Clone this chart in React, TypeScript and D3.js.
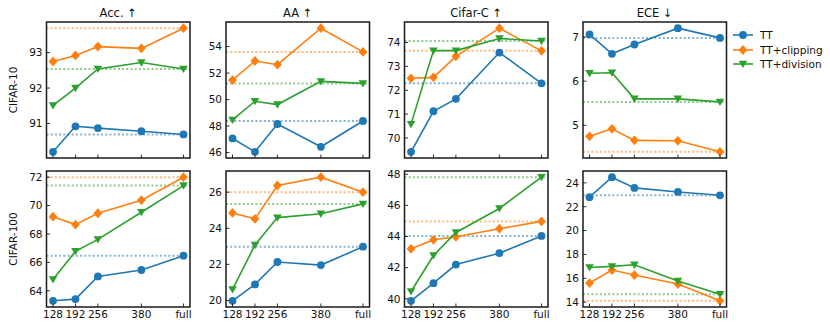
import React from "react";
import * as d3 from "d3";

const xLabels = ["128", "192", "256", "380", "full"];
const xValues = [128, 192, 256, 380, 500];

const seriesNames = ["TT", "TT+clipping", "TT+division"];
const seriesColors = ["#1f77b4", "#ff7f0e", "#2ca02c"];

const columnTitles = ["Acc. ↑", "AA ↑", "Cifar-C ↑", "ECE ↓"];
const rowTitles = ["CIFAR-10", "CIFAR-100"];

// CIFAR-10
const c10AccTT = [90.2, 90.92, 90.87, 90.78, 90.69];
const c10AccClip = [92.75, 92.92, 93.17, 93.12, 93.69];
const c10AccDiv = [91.51, 92.0, 92.54, 92.72, 92.54];

const c10AaTT = [47.06, 46.05, 48.15, 46.43, 48.38];
const c10AaClip = [51.47, 52.91, 52.63, 55.39, 53.6];
const c10AaDiv = [48.46, 49.87, 49.62, 51.37, 51.22];

const c10CTT = [69.42, 71.12, 71.64, 73.58, 72.29];
const c10CClip = [72.5, 72.54, 73.42, 74.6, 73.65];
const c10CDiv = [70.58, 73.66, 73.66, 74.17, 74.06];

const c10EceTT = [7.06, 6.62, 6.83, 7.2, 6.98];
const c10EceClip = [4.75, 4.92, 4.66, 4.65, 4.4];
const c10EceDiv = [6.18, 6.19, 5.6, 5.6, 5.53];

// CIFAR-100
const c100AccTT = [63.29, 63.41, 65.01, 65.46, 66.47];
const c100AccClip = [69.22, 68.66, 69.46, 70.38, 72.0];
const c100AccDiv = [64.8, 66.78, 67.62, 69.53, 71.41];

const c100AaTT = [19.98, 20.89, 22.13, 21.96, 22.98];
const c100AaClip = [24.85, 24.52, 26.37, 26.83, 26.0];
const c100AaDiv = [20.61, 23.07, 24.59, 24.8, 25.35];

const c100CTT = [39.87, 41.0, 42.2, 42.93, 44.04];
const c100CClip = [43.21, 43.79, 43.98, 44.5, 44.97];
const c100CDiv = [40.47, 42.78, 44.26, 45.8, 47.81];

const c100EceTT = [22.8, 24.48, 23.58, 23.24, 22.96];
const c100EceClip = [15.6, 16.69, 16.27, 15.52, 14.11];
const c100EceDiv = [16.91, 17.0, 17.13, 15.78, 14.66];

// tick labels
const ticksC10Acc = [91, 92, 93];
const ticksC10Aa = [46, 48, 50, 52, 54];
const ticksC10C = [70, 71, 72, 73, 74];
const ticksC10Ece = [5, 6, 7];
const ticksC100Acc = [64, 66, 68, 70, 72];
const ticksC100Aa = [20, 22, 24, 26];
const ticksC100C = [40, 42, 44, 46, 48];
const ticksC100Ece = [14, 16, 18, 20, 22, 24];

const panels = [
  [
    { series: [c10AccTT, c10AccClip, c10AccDiv], ticks: ticksC10Acc },
    { series: [c10AaTT, c10AaClip, c10AaDiv], ticks: ticksC10Aa },
    { series: [c10CTT, c10CClip, c10CDiv], ticks: ticksC10C },
    { series: [c10EceTT, c10EceClip, c10EceDiv], ticks: ticksC10Ece },
  ],
  [
    { series: [c100AccTT, c100AccClip, c100AccDiv], ticks: ticksC100Acc },
    { series: [c100AaTT, c100AaClip, c100AaDiv], ticks: ticksC100Aa },
    { series: [c100CTT, c100CClip, c100CDiv], ticks: ticksC100C },
    { series: [c100EceTT, c100EceClip, c100EceDiv], ticks: ticksC100Ece },
  ],
];

const W = 830;
const H = 328;
const colX = [46.5, 226, 404.5, 583];
const panelW = 143.5;
const rowY = [22, 171];
const panelH = 136;
const FONT = "DejaVu Sans, sans-serif";

function Marker({ kind, x, y, color }: { kind: number; x: number; y: number; color: string }) {
  if (kind === 0) return <circle cx={x} cy={y} r={3.9} fill={color} />;
  if (kind === 1) {
    const s = 4.9;
    return (
      <path
        d={`M${x},${y - s}L${x + s * 0.9},${y}L${x},${y + s}L${x - s * 0.9},${y}Z`}
        fill={color}
      />
    );
  }
  const s = 4.3;
  return (
    <path
      d={`M${x - s},${y - s * 0.75}L${x + s},${y - s * 0.75}L${x},${y + s * 0.95}Z`}
      fill={color}
    />
  );
}

function Panel({ r, c }: { r: number; c: number }) {
  const p = panels[r][c];
  const left = colX[c];
  const top = rowY[r];
  const xExt = d3.extent(xValues) as [number, number];
  const xPad = (xExt[1] - xExt[0]) * 0.05;
  const x = d3.scaleLinear().domain([xExt[0] - xPad, xExt[1] + xPad]).range([left, left + panelW]);
  const all = p.series.flat();
  const yExt = d3.extent(all) as [number, number];
  const yPad = (yExt[1] - yExt[0]) * 0.05;
  const y = d3.scaleLinear().domain([yExt[0] - yPad, yExt[1] + yPad]).range([top + panelH, top]);
  const line = d3
    .line<number>()
    .x((_, i) => x(xValues[i]))
    .y((v) => y(v));
  const clipId = `clip-${r}-${c}`;
  return (
    <g>
      <defs>
        <clipPath id={clipId}>
          <rect x={left} y={top} width={panelW} height={panelH} />
        </clipPath>
      </defs>
      <g clipPath={`url(#${clipId})`}>
        {p.series.map((s, i) => (
          <line
            key={"ref" + i}
            x1={left}
            x2={left + panelW}
            y1={y(s[s.length - 1])}
            y2={y(s[s.length - 1])}
            stroke={seriesColors[i]}
            strokeWidth={2}
            strokeDasharray="2 2.2"
            opacity={0.55}
          />
        ))}
      </g>
      {p.series.map((s, i) => (
        <g key={"s" + i}>
          <path d={line(s) || ""} fill="none" stroke={seriesColors[i]} strokeWidth={1.6} />
          {s.map((v, j) => (
            <Marker key={j} kind={i} x={x(xValues[j])} y={y(v)} color={seriesColors[i]} />
          ))}
        </g>
      ))}
      <rect x={left} y={top} width={panelW} height={panelH} fill="none" stroke="#1a1a1a" strokeWidth={1.5} />
      {xValues.map((xv, j) => (
        <g key={"xt" + j}>
          <line x1={x(xv)} x2={x(xv)} y1={top + panelH} y2={top + panelH - 3.5} stroke="#1a1a1a" strokeWidth={0.9} />
          {r === 1 && (
            <text x={x(xv)} y={top + panelH + 11} textAnchor="middle" fontSize={10.5} fontFamily={FONT} fill="#111">
              {xLabels[j]}
            </text>
          )}
        </g>
      ))}
      {p.ticks.map((t) => (
        <g key={"yt" + t}>
          <line x1={left} x2={left + 3.5} y1={y(t)} y2={y(t)} stroke="#1a1a1a" strokeWidth={0.9} />
          <text x={left - 4} y={y(t)} dy="0.36em" textAnchor="end" fontSize={10.5} fontFamily={FONT} fill="#111">
            {t}
          </text>
        </g>
      ))}
      {r === 0 && (
        <text x={left + panelW / 2} y={top - 5} textAnchor="middle" fontSize={11.5} fontFamily={FONT} fill="#111">
          {columnTitles[c]}
        </text>
      )}
    </g>
  );
}

export default function App() {
  const legendX = 733;
  const legendY = [35, 50, 64];
  return (
    <svg
      width={W}
      height={H}
      style={{ position: "absolute", left: 0, top: 0, background: "#fff" }}
    >
      <rect width={W} height={H} fill="#fff" />
      {rowTitles.map((t, r) => (
        <text
          key={t}
          transform={`translate(17,${rowY[r] + panelH / 2}) rotate(-90)`}
          textAnchor="middle"
          fontSize={10.5}
          fontFamily={FONT}
          fill="#111"
        >
          {t}
        </text>
      ))}
      {[0, 1].map((r) => [0, 1, 2, 3].map((c) => <Panel key={`${r}-${c}`} r={r} c={c} />))}
      {seriesNames.map((n, i) => (
        <g key={n}>
          <line x1={legendX} x2={legendX + 20} y1={legendY[i]} y2={legendY[i]} stroke={seriesColors[i]} strokeWidth={1.6} />
          <Marker kind={i} x={legendX + 10} y={legendY[i]} color={seriesColors[i]} />
          <text x={legendX + 27} y={legendY[i]} dy="0.36em" fontSize={10.5} fontFamily={FONT} fill="#111">
            {n}
          </text>
        </g>
      ))}
    </svg>
  );
}
